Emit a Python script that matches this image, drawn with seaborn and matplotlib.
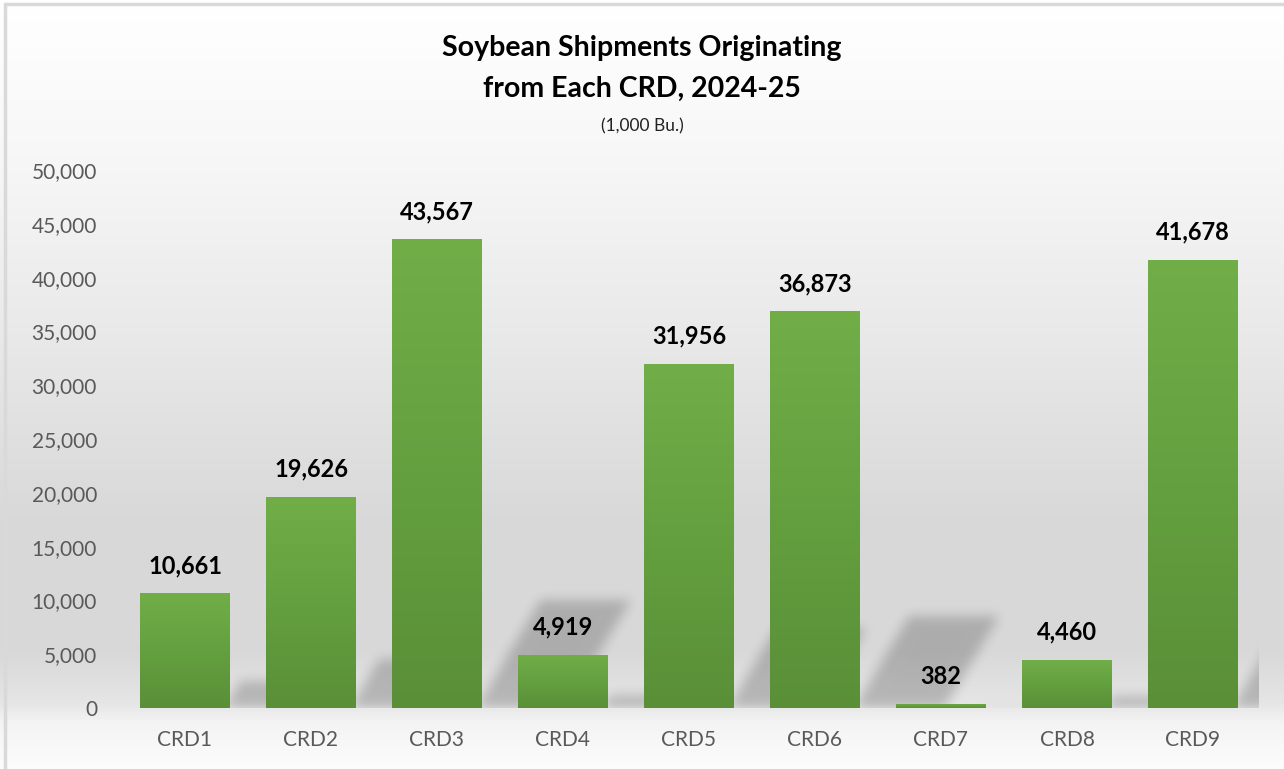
import numpy as np
import matplotlib
matplotlib.use("Agg")
import matplotlib.pyplot as plt
from matplotlib.colors import LinearSegmentedColormap
from matplotlib.ticker import FuncFormatter
import seaborn as sns

# Data
categories = ["CRD1", "CRD2", "CRD3", "CRD4", "CRD5", "CRD6", "CRD7", "CRD8", "CRD9"]
shipments = [10661, 19626, 43567, 4919, 31956, 36873, 382, 4460, 41678]
y_ticks = list(range(0, 50001, 5000))

W, H, DPI = 1284, 769, 100

sns.set_theme(style="white")
plt.rcParams["font.family"] = ["Lato", "DejaVu Sans"]

fig = plt.figure(figsize=(W / DPI, H / DPI), dpi=DPI)

# background axes in pixel space
bg = fig.add_axes([0, 0, 1, 1], zorder=0)
bg.set_xlim(0, W)
bg.set_ylim(0, H)
bg.axis("off")

# vertical gradient of the chart area (fraction from top, grey level)
stops = [(0.0, 1.0), (0.2, 0.97), (0.45, 0.91), (0.68, 0.848), (0.85, 0.85),
         (0.915, 0.90), (0.94, 0.955), (1.0, 0.99)]
yy = np.linspace(0, 1, H)
grey = np.interp(yy, [s[0] for s in stops], [s[1] for s in stops])
grad = np.repeat(grey[:, None], 4, axis=1)
grad_img = np.dstack([grad, grad, grad])
bg.imshow(grad_img, extent=(0, W, 0, H), origin="upper", aspect="auto", zorder=0)

# border
bg.plot([5, 5], [0, H - 4], color="#d9d9d9", lw=2.5, zorder=1)
bg.plot([5, W], [H - 4, H - 4], color="#d9d9d9", lw=2.5, zorder=1)

# main axes
ax = fig.add_axes([122 / W, 1 - 708 / H, (1256 - 122) / W, (708 - 170) / H], zorder=2)
ax.set_facecolor("none")

sns.barplot(x=categories, y=shipments, color="#66a03f", width=0.714,
            saturation=1, linewidth=0, edgecolor="none", ax=ax, zorder=3)

ax.set_ylim(0, 50000)
ax.set_xlim(-0.5, len(categories) - 0.5)
ax.set_yticks(y_ticks)
ax.yaxis.set_major_formatter(FuncFormatter(lambda v, p: f"{int(v):,}"))
ax.tick_params(axis="y", length=0, pad=18, labelsize=15, labelcolor="#595959")
ax.tick_params(axis="x", length=0, pad=16, labelsize=15, labelcolor="#595959")
ax.set_xlabel("")
ax.set_ylabel("")
for s in ax.spines.values():
    s.set_visible(False)
ax.grid(False)

# bar gradients
bar_cmap = LinearSegmentedColormap.from_list("g", ["#5a8f38", "#64a03f", "#71ae48"])
vgrad = np.linspace(0, 1, 256)[:, None]
for patch in ax.patches:
    x0, w, h = patch.get_x(), patch.get_width(), patch.get_height()
    im = ax.imshow(vgrad, cmap=bar_cmap, extent=(x0, x0 + w, 0, h), origin="lower",
                   aspect="auto", zorder=3.5)
    im.set_clip_path(patch)
ax.set_xlim(-0.5, len(categories) - 0.5)
ax.set_ylim(0, 50000)

# value labels
for i, v in enumerate(shipments):
    ax.annotate(f"{v:,}", (i, v), xytext=(0, 20), textcoords="offset points",
                ha="center", va="center", fontsize=17, fontweight="bold",
                color="black", zorder=5)

# perspective shadows computed from the drawn bars
fig.canvas.draw()
mask = np.zeros((H, W))
px = np.arange(W)[None, :]
py = np.arange(H)[:, None]
ab = ax.get_window_extent()
for patch in ax.patches:
    bb = patch.get_window_extent()
    x1, wpx, hpx = bb.x1, bb.width, bb.height
    sh = 0.23 * hpx
    dy = py - bb.y0
    left = x1 - 6 + 0.6 * dy
    inside = (dy >= 0) & (dy <= sh) & (px >= left) & (px <= left + wpx)
    mask[inside] = 1.0


def box_blur(a, r):
    k = np.ones(2 * r + 1) / (2 * r + 1)
    a = np.apply_along_axis(lambda m: np.convolve(m, k, mode="same"), 0, a)
    a = np.apply_along_axis(lambda m: np.convolve(m, k, mode="same"), 1, a)
    return a


mask = box_blur(box_blur(box_blur(mask, 5), 5), 5)
clip = (py >= ab.y0) & (px <= ab.x1 + 2)
mask = mask * clip
shadow = np.zeros((H, W, 4))
shadow[..., 3] = mask * 0.2
bg.imshow(shadow, extent=(0, W, 0, H), origin="lower", aspect="auto", zorder=2)
bg.set_xlim(0, W)
bg.set_ylim(0, H)

# titles
fig.text(0.5, 1 - 48 / H, "Soybean Shipments Originating", ha="center", va="center",
         fontsize=20.5, fontweight="bold", color="black")
fig.text(0.5, 1 - 89 / H, "from Each CRD, 2024-25", ha="center", va="center",
         fontsize=20.5, fontweight="bold", color="black")
fig.text(0.5, 1 - 126 / H, "(1,000 Bu.)", ha="center", va="center",
         fontsize=12.5, color="#222222")

fig.savefig("out.png", dpi=DPI)
